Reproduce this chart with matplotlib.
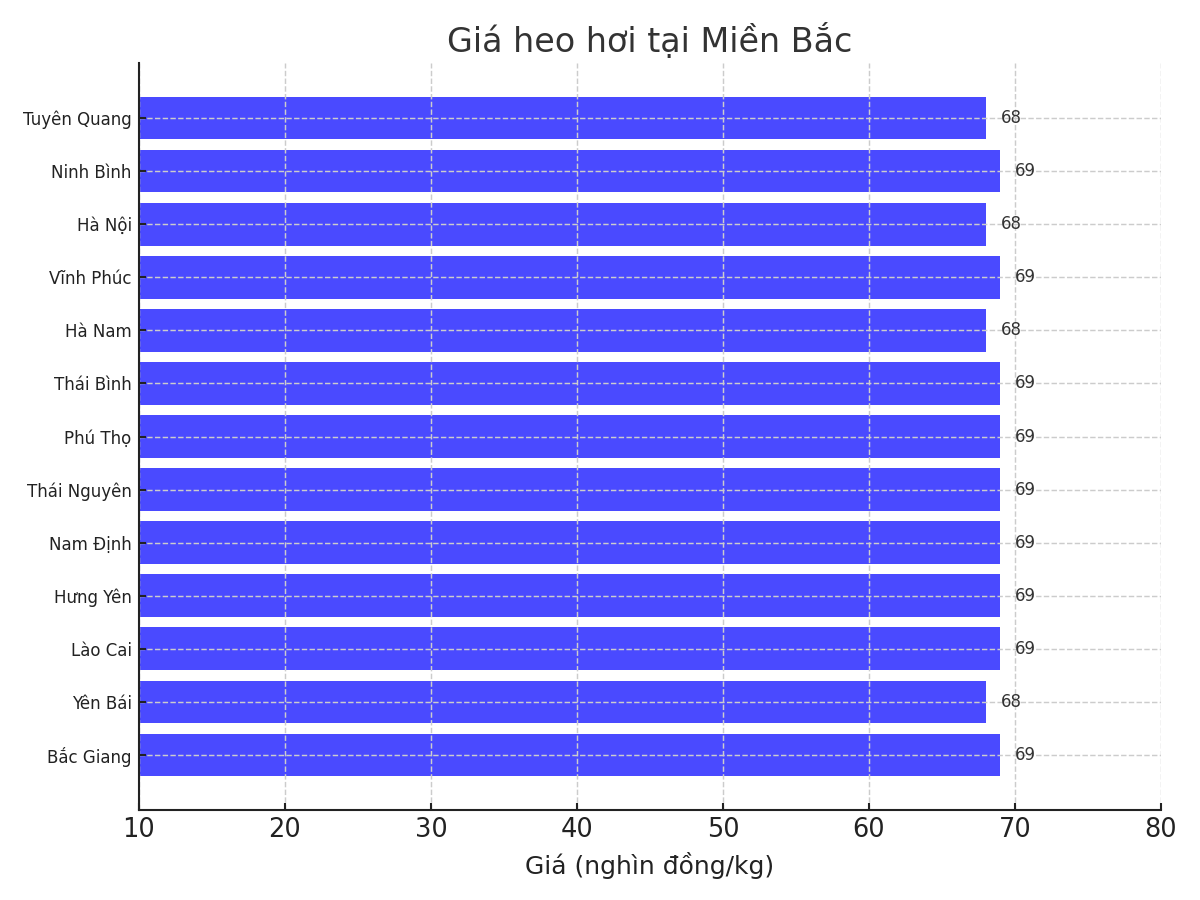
import matplotlib
matplotlib.use("Agg")
import matplotlib.pyplot as plt

provinces = ["Bắc Giang", "Yên Bái", "Lào Cai", "Hưng Yên", "Nam Định", "Thái Nguyên",
             "Phú Thọ", "Thái Bình", "Hà Nam", "Vĩnh Phúc", "Hà Nội", "Ninh Bình", "Tuyên Quang"]
prices = [69, 68, 69, 69, 69, 69, 69, 69, 68, 69, 68, 69, 68]

fig, ax = plt.subplots(figsize=(8, 6), dpi=150)
fig.subplots_adjust(left=0.1158, right=0.9675, bottom=0.1, top=0.93)
bars = ax.barh(provinces, prices, color="#4a4aff", height=0.8)
for b, v in zip(bars, prices):
    ax.text(v + 1, b.get_y() + b.get_height() / 2, f"{v}", va="center", ha="left",
            fontsize=8, color="#333333")

ax.set_xlim(10, 80)
ax.set_title("Giá heo hơi tại Miền Bắc", fontsize=16, color="#333333", pad=5.5)
ax.set_xlabel("Giá (nghìn đồng/kg)", fontsize=12, color="#222222")
ax.tick_params(axis="both", direction="in", width=1.0, colors="#222222")
ax.tick_params(axis="x", labelsize=12.3)
ax.tick_params(axis="y", labelsize=8)
ax.grid(True, linestyle="--", color="#cccccc", linewidth=0.7)
ax.set_axisbelow(False)
ax.spines["top"].set_visible(False)
ax.spines["right"].set_visible(False)
for s in ("left", "bottom"):
    ax.spines[s].set_linewidth(1.0)
    ax.spines[s].set_color("#222222")
    ax.spines[s].set_zorder(5)
fig.savefig("out.png", dpi=150)
